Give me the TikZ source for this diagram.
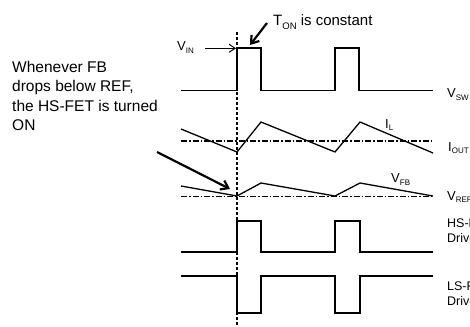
\documentclass[tikz,border=0pt]{standalone}
\usepackage{fontspec}
\setmainfont{Liberation Sans}
\usetikzlibrary{arrows.meta}
\newcommand{\lowsub}[1]{\raisebox{-0.4ex}{\fontsize{8}{8}\selectfont #1}}
\newcommand{\bigsub}[1]{\raisebox{-0.4ex}{\fontsize{9.5}{9.5}\selectfont #1}}
\begin{document}
\begin{tikzpicture}[x=1pt,y=-1pt,
  wave/.style={line width=1.3pt, line join=miter},
  drvwave/.style={line width=1.6pt, line join=miter},
  refline/.style={line width=1.2pt, dash pattern=on 6pt off 2pt on 1.5pt off 2pt},
  marker/.style={line width=1.4pt, dash pattern=on 3pt off 2pt},
  lbl/.style={anchor=base west, inner sep=0pt, font=\fontsize{13}{15}\selectfont},
  drvlbl/.style={anchor=base west, inner sep=0pt, align=left, font=\fontsize{12.5}{14.5}\selectfont},
  note/.style={anchor=base west, inner sep=0pt, align=left, font=\fontsize{15.5}{19.5}\selectfont},
  thinarrow/.style={line width=1pt, -{Straight Barb[length=6pt,width=8pt]}},
  thickarrow/.style={line width=2.2pt, -{Straight Barb[length=7pt,width=10pt]}}]
\useasboundingbox (0,0) rectangle (470,326);
\clip (0,0) rectangle (470,326);

% marker line
\draw[marker] (237,32) -- (237,326);

% V_SW
\draw[wave] (181,90.7) -- (237,90.7) -- (237,48) -- (261,48) -- (261,90.7) -- (335,90.7) -- (335,48) -- (359,48) -- (359,90.7) -- (433,90.7);
% I_L and I_OUT
\draw[refline] (181,141) -- (433,141);
\draw[wave] (181,129) -- (237,152) -- (261,122) -- (335,152) -- (360,122) -- (433,153);
% V_FB and V_REF
\draw[refline] (181,196.5) -- (433,196.5);
\draw[wave] (181,186) -- (237,196) -- (261,183) -- (335,196) -- (360,183) -- (433,196);
% HS driver
\draw[drvwave] (181,252) -- (237,252) -- (237,221) -- (261,221) -- (261,252) -- (335,252) -- (335,221) -- (360,221) -- (360,252) -- (433,252);
% LS driver
\draw[drvwave] (181,276) -- (237,276) -- (237,313) -- (261,313) -- (261,276) -- (335,276) -- (335,313) -- (360,313) -- (360,276) -- (433,276);

% labels
\node[lbl] (vin) at (177,51) {V\lowsub{IN}};
\node[lbl] (vsw) at (447,98) {V\lowsub{SW}};
\node[lbl] (il) at (385,128) {I\lowsub{L}};
\node[lbl] (iout) at (448,151) {I\lowsub{OUT}};
\node[lbl] (vfb) at (391,182.5) {V\lowsub{FB}};
\node[lbl] (vref) at (447,200) {V\lowsub{REF}};
\node[drvlbl] (hs) at (447,242) {HS-FET\\Driver};
\node[drvlbl] (ls) at (447,305) {LS-FET\\Driver};
\node[note, font=\fontsize{15}{18}\selectfont] (ton) at (273,26) {T\bigsub{ON} is constant};
\node[note] (when) at (12,130.5) {Whenever FB\\drops below REF,\\the HS-FET is turned\\ON};

% arrows
\coordinate (vinTail) at (205,48.3);
\coordinate (vinTip) at (236,48.3);
\draw[thinarrow] (vinTail) -- (vinTip);
\coordinate (tonTail) at (267,23);
\coordinate (tonTip) at (250,45);
\draw[thickarrow] (tonTail) -- (tonTip);
\coordinate (whenTail) at (157,152);
\coordinate (whenTip) at (230,189);
\draw[thickarrow] (whenTail) -- (whenTip);
\end{tikzpicture}
\end{document}
